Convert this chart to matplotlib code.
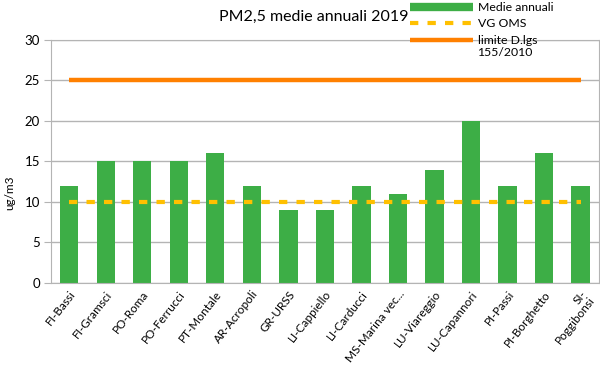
import numpy as np
import matplotlib.pyplot as plt
from matplotlib.lines import Line2D

stations = ['FI-Bassi', 'FI-Gramsci', 'PO-Roma', 'PO-Ferrucci', 'PT-Montale',
            'AR-Acropoli', 'GR-URSS', 'LI-Cappiello', 'LI-Carducci', 'MS-Marina vec...',
            'LU-Viareggio', 'LU-Capannori', 'PI-Passi', 'PI-Borghetto', 'SI-\nPoggibonsi']
medie = [12, 15, 15, 15, 16, 12, 9, 9, 12, 11, 14, 20, 12, 16, 12]
vg_oms = [10] * len(stations)
limite = [25] * len(stations)

plt.rcParams['font.family'] = ['Lato', 'DejaVu Sans']

fig = plt.figure(figsize=(6, 3.69), dpi=100)
ax = fig.add_axes([0.085, 0.233, 0.913, 0.659])

x = np.arange(len(stations))
ax.bar(x, medie, width=0.5, color='#3dae46', zorder=2)
ax.plot(x, vg_oms, color='#ffc000', lw=3, dashes=(2, 2.2), zorder=3)
ax.plot(x, limite, color='#ff8000', lw=3.2, solid_capstyle='butt', zorder=3)

ax.set_xlim(-0.5, len(stations) - 0.5)
ax.set_ylim(0, 30)
ax.set_yticks(range(0, 31, 5))
ax.yaxis.grid(True, color='#b4b4b4', lw=1)
ax.set_axisbelow(True)
ax.tick_params(axis='y', length=5, color='#b4b4b4', labelsize=9.5, pad=3)
ax.tick_params(axis='x', length=0, labelsize=8.5, pad=4)
ax.set_xticks(x)
ax.set_xticklabels(stations, rotation=52, ha='right', rotation_mode='anchor',
                   linespacing=0.9)
for s in ax.spines.values():
    s.set_color('#b4b4b4')
ax.set_ylabel('ug/m3', fontsize=8.5)
ax.yaxis.set_label_coords(-0.066, 0.37)

fig.text(0.523, 0.955, 'PM2,5 medie annuali 2019', ha='center', va='center',
         fontsize=11.5)

# legend; second line of the last entry sits under it like in the original
handles = [Line2D([], [], color='#3dae46', lw=6, solid_capstyle='butt'),
           Line2D([], [], color='#ffc000', lw=3, dashes=(2, 2.2)),
           Line2D([], [], color='#ff8000', lw=3.2, solid_capstyle='butt')]
fig.legend(handles, ['Medie annuali', 'VG OMS', 'limite D.lgs'],
           loc='upper left', bbox_to_anchor=(0.675, 1.008), frameon=False,
           fontsize=8.8, handlelength=5.2, handletextpad=0.4, labelspacing=0.45,
           borderaxespad=0)
fig.text(0.795, 0.858, '155/2010', ha='left', va='center', fontsize=8.8)

fig.savefig('out.png', dpi=100)
